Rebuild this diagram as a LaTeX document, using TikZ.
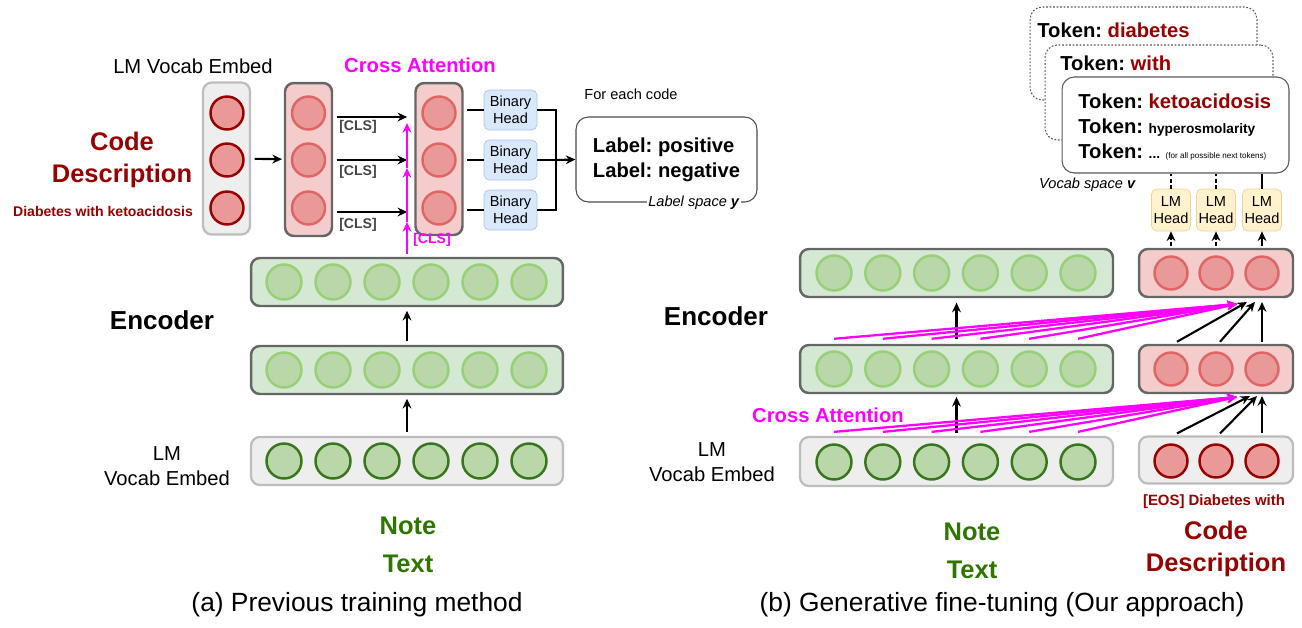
\documentclass[tikz,border=0pt]{standalone}
\usepackage{fontspec}
\setmainfont{Liberation Sans}
\usetikzlibrary{arrows.meta,calc}
\frenchspacing

\definecolor{codered}{HTML}{990000}
\definecolor{notegreen}{HTML}{2D7600}
\definecolor{attnpink}{HTML}{FF00FF}
\definecolor{embfill}{HTML}{EEEEEE}
\definecolor{embdraw}{HTML}{BDBDBD}
\definecolor{encdraw}{HTML}{666666}
\definecolor{encfill}{HTML}{D5E8D4}
\definecolor{decfill}{HTML}{F4CCCC}
\definecolor{cgreen}{HTML}{B9D7A8}
\definecolor{lgreen}{HTML}{97D077}
\definecolor{dgreen}{HTML}{38761D}
\definecolor{cred}{HTML}{EA9999}
\definecolor{lred}{HTML}{E06666}
\definecolor{headblue}{HTML}{DAE8FC}
\definecolor{headbluedraw}{HTML}{A9C4EB}
\definecolor{headyel}{HTML}{FFF2CC}
\definecolor{headyeldraw}{HTML}{EAD39A}
\definecolor{clsgray}{HTML}{444444}

\tikzset{
  embrow/.style={draw=embdraw, fill=embfill, line width=1.3pt, rounded corners=5pt, inner sep=0pt},
  encrow/.style={draw=encdraw, fill=encfill, line width=1.4pt, rounded corners=5pt, inner sep=0pt},
  decrow/.style={encrow, fill=decfill},
  gcirc/.style={circle, draw=lgreen, fill=cgreen, line width=1.4pt, minimum size=0.7cm, inner sep=0pt},
  gembcirc/.style={gcirc, draw=dgreen},
  rcirc/.style={circle, draw=lred, fill=cred, line width=1.4pt, minimum size=0.66cm, inner sep=0pt},
  rembcirc/.style={rcirc, draw=codered},
  binhead/.style={draw=headbluedraw, fill=headblue, rounded corners=3pt, minimum width=1.06cm,
    minimum height=0.8cm, align=center, inner sep=0pt, font=\fontsize{8.3}{9.7}\selectfont},
  lmhead/.style={binhead, draw=headyeldraw, fill=headyel, minimum width=0.78cm, minimum height=0.84cm},
  arr/.style={-{Stealth[length=5.5pt,width=5pt]}, line width=1.2pt},
  attn/.style={arr, draw=attnpink, line width=1.3pt},
  card/.style={draw=black!65, fill=white, rounded corners=7pt, line width=0.6pt, inner sep=0pt},
  dotcard/.style={card, dash pattern=on 1pt off 1pt},
  dashlink/.style={line width=1.2pt, dash pattern=on 2pt off 1.5pt},
  bigred/.style={text=codered, font=\fontsize{14.5}{18}\selectfont\bfseries, align=center},
  biggreen/.style={text=notegreen, font=\fontsize{14.5}{22}\selectfont\bfseries, align=center},
  plain/.style={font=\fontsize{11.5}{14.2}\selectfont, align=center},
  heading/.style={font=\fontsize{14.8}{18}\selectfont\bfseries},
  caption/.style={font=\fontsize{15}{18}\selectfont},
  tok/.style={anchor=west, font=\fontsize{11.5}{14}\selectfont\bfseries, inner sep=0pt},
}

\begin{document}
\begin{tikzpicture}[x=0.02cm,y=-0.02cm]
\useasboundingbox (0,0) rectangle (1302,627);

% (a) previous training method
\node[plain] (lmEmbA) at (193,66) {LM Vocab Embed};
\node[bigred] (codeA) at (122,160) {Code\\Description};
\node[text=codered, font=\fontsize{8}{9}\selectfont\bfseries] (diabA) at (103,211) {Diabetes with ketoacidosis};
\node[font=\fontsize{11.5}{14}\selectfont\bfseries, text=attnpink] (crossA) at (420,65) {Cross Attention};

\node[embrow, minimum width=0.94cm, minimum height=3.04cm] (codeEmb) at (226.5,158.5) {};
\node[decrow, minimum width=0.94cm, minimum height=3.06cm] (codeEnc) at (308.5,159.5) {};
\node[decrow, minimum width=0.94cm, minimum height=3.04cm] (codeAttn) at (439,159) {};
\foreach \i/\y in {1/113,2/160,3/208} {
  \node[rembcirc] (ce\i) at (227,\y) {};
  \node[rcirc] (cb\i) at (308.5,\y) {};
  \node[rcirc] (cc\i) at (439,\y) {};
}
\draw[arr, shorten <=2pt, shorten >=1pt] (codeEmb) -- (codeEnc);

% CLS arrows
\foreach \i/\y/\ly in {1/117/127,2/160/172,3/212/225} {
  \coordinate (clsL\i) at (codeEnc.east |- 0,\y);
  \coordinate (clsR\i) at (codeAttn.west |- 0,\y);
  \draw[arr, shorten <=2pt, shorten >=4pt] (clsL\i) -- (clsR\i);
  \node[text=clsgray, font=\fontsize{8}{9}\selectfont\bfseries] (cls\i) at (358,\ly) {[CLS]};
}
\coordinate (clsFoot) at (407,254);
\coordinate (clsA) at (407,222);
\coordinate (clsB) at (407,168);
\coordinate (clsC) at (407,123);
\draw[attn] (clsFoot) -- (clsA);
\draw[attn] (clsA) -- (clsB);
\draw[attn] (clsB) -- (clsC);
\node[text=attnpink, font=\fontsize{8}{9}\selectfont\bfseries] (clsPink) at (432,240) {[CLS]};

% binary heads
\foreach \i/\y in {1/110,2/160,3/210} {
  \node[binhead] (bh\i) at (510.5,\y) {Binary\\Head};
  \draw[line width=1.2pt, shorten <=2pt] (codeAttn.east |- bh\i) -- (bh\i.west);
}
\coordinate (merge) at (556,160);
\draw[line width=1.2pt] (bh1.east) -| (merge) |- (bh3.east);
\draw[line width=1.2pt] (bh2.east) -- (merge);
\node[font=\fontsize{8.3}{10}\selectfont] (eachCode) at (631,94) {For each code};
\node[card, draw=black!70, minimum width=3.62cm, minimum height=1.7cm, align=left,
  font=\fontsize{11.5}{14.2}\selectfont\bfseries] (labelBox) at (666.5,159.5) {Label: positive\\Label: negative};
\draw[arr] (merge) -- (labelBox.west);
\node[fill=white, inner sep=1pt, font=\fontsize{8.3}{10}\selectfont] (labelSpace) at (694,203)
  {\textit{Label space} \textbf{\textit{y}}};

% encoder (a)
\node[heading] (encA) at (162,320) {Encoder};
\node[plain] (vocabA) at (167,466) {LM\\Vocab Embed};
\node[encrow, minimum width=6.24cm, minimum height=0.96cm] (encTopL) at (407,282) {};
\node[encrow, minimum width=6.24cm, minimum height=0.96cm] (encMidL) at (407,370) {};
\node[embrow, minimum width=6.24cm, minimum height=0.96cm] (embL) at (407,461) {};
\foreach \i in {1,...,6} {
  \node[gcirc] (tl\i) at ({284+49*(\i-1)},282) {};
  \node[gcirc] (ml\i) at ({284+49*(\i-1)},370) {};
  \node[gembcirc] (el\i) at ({284+49*(\i-1)},461) {};
}
\draw[arr, shorten <=2pt, shorten >=2pt] (encMidL.north) -- (encTopL.south);
\draw[arr, shorten <=2pt, shorten >=2pt] (embL.north) -- (encMidL.south);
\node[biggreen] (noteA) at (408,545) {Note\\Text};
\node[caption] (capA) at (357,605) {(a) Previous training method};

% (b) generative fine-tuning
\node[heading] (encB) at (716,316) {Encoder};
\node[plain] (vocabB) at (712,462) {LM\\Vocab Embed};
\node[encrow, minimum width=6.26cm, minimum height=0.96cm] (encTopR) at (956.5,273) {};
\node[encrow, minimum width=6.26cm, minimum height=0.96cm] (encMidR) at (956.5,369) {};
\node[embrow, minimum width=6.26cm, minimum height=0.98cm] (embR) at (956.5,461.5) {};
\node[decrow, minimum width=3.08cm, minimum height=0.96cm] (decTop) at (1216,273) {};
\node[decrow, minimum width=3.08cm, minimum height=0.96cm] (decMid) at (1216,369) {};
\node[embrow, minimum width=3.08cm, minimum height=0.94cm] (decEmb) at (1216,460) {};
\foreach \i in {1,...,6} {
  \node[gcirc] (tr\i) at ({834+48.8*(\i-1)},273) {};
  \node[gcirc] (mr\i) at ({834+48.8*(\i-1)},369) {};
  \node[gembcirc] (er\i) at ({834+48.8*(\i-1)},462) {};
}
\foreach \i/\x in {1/1171,2/1216,3/1262} {
  \node[rcirc] (dt\i) at (\x,273) {};
  \node[rcirc] (dm\i) at (\x,369) {};
  \node[rembcirc] (de\i) at (\x,461) {};
}
\draw[arr, shorten <=2.5pt, shorten >=2.5pt] (encMidR.north) -- (encTopR.south);
\draw[arr, shorten <=1.5pt, shorten >=1.5pt] (embR.north) -- (encMidR.south);

% cross attention into decoder
\coordinate (attnTop) at (1237,304);
\coordinate (attnBot) at (1237,397);
\foreach \i in {1,...,6} {
  \draw[attn] ($(mr\i |- encMidR.north)+(0,-5)$) -- (attnTop);
  \draw[attn] ($(er\i |- embR.north)+(0,-4)$) -- (attnBot);
}
\node[font=\fontsize{11.5}{14}\selectfont\bfseries, text=attnpink] (crossB) at (828,415) {Cross Attention};

% decoder self connections
\coordinate (inTop1) at (1247,302);
\coordinate (inTop2) at (1255,302);
\coordinate (inTop3) at (1262,302);
\coordinate (inMid1) at (1250,396);
\coordinate (inMid2) at (1257,396);
\coordinate (inMid3) at (1262,396);
\foreach \i/\dx in {1/6,2/4,3/0} {
  \draw[arr] ($(dm\i |- decMid.north)+(\dx,-2)$) -- (inTop\i);
  \draw[arr] ($(de\i |- decEmb.north)+(\dx,-2)$) -- (inMid\i);
}

% token cards
\node[dotcard, minimum width=4.54cm, minimum height=1.86cm] (card1) at (1143.5,53.5) {};
\node[tok] (tok1) at (1037,30) {Token: \textcolor{codered}{diabetes}};
\node[dotcard, minimum width=4.56cm, minimum height=1.9cm] (card2) at (1159,92.5) {};
\node[tok] (tok2) at (1060,63) {Token: \textcolor{codered}{with}};
\node[card, minimum width=4.54cm, minimum height=1.92cm] (card3) at (1175.5,125) {};
\node[tok] (tok3) at (1078,101) {Token: \textcolor{codered}{ketoacidosis}};
\node[tok] (tok4) at (1078,128) {Token: {\fontsize{7.8}{9}\selectfont hyperosmolarity}};
\node[tok] (tok5) at (1078,152) {Token: {\fontsize{7.8}{9}\selectfont ...}
  {\fontsize{4.6}{5}\selectfont\mdseries (for all possible next tokens)}};
\node[anchor=east, font=\fontsize{8.3}{10}\selectfont] (vocabSpace) at (1142,185)
  {\textit{Vocab space} \textbf{\textit{v}}};

% LM heads
\foreach \i in {1,2,3} {
  \node[lmhead] (lmh\i) at (dt\i |- 0,210) {LM\\Head};
}
\draw[arr, dashlink] ($(dt1 |- decTop.north)+(0,-2)$) -- (lmh1.south);
\draw[arr, dashlink] ($(dt2 |- decTop.north)+(0,-2)$) -- (lmh2.south);
\draw[arr] ($(dt3 |- decTop.north)+(0,-2)$) -- (lmh3.south);
\draw[dashlink] (lmh1.north) -- (lmh1.north |- card3.south);
\draw[dashlink] (lmh2.north) -- (lmh2.north |- card3.south);
\draw[line width=1.2pt] (lmh3.north) -- (lmh3.north |- card3.south);

\node[text=codered, font=\fontsize{8.5}{10}\selectfont\bfseries] (eosB) at (1214,502) {[EOS] Diabetes with};
\node[bigred] (codeB) at (1216,549) {Code\\Description};
\node[biggreen] (noteB) at (972,551) {Note\\Text};
\node[caption] (capB) at (1002,605) {(b) Generative fine-tuning (Our approach)};
\end{tikzpicture}
\end{document}
